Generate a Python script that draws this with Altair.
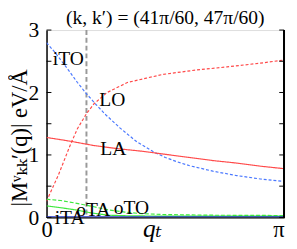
import altair as alt
import pandas as pd
import numpy as np

PI = float(np.pi)

# q given as fraction of pi
ito_q = [0, 0.04, 0.09, 0.13, 0.168, 0.21, 0.25, 0.31, 0.38, 0.45, 0.5, 0.55, 0.6, 0.7, 0.8, 0.9, 1.0]
ito_v = [2.80, 2.62, 2.37, 2.16, 1.98, 1.80, 1.64, 1.43, 1.21, 1.05, 0.96, 0.89, 0.83, 0.74, 0.67, 0.615, 0.575]

lo_q = [0, 0.05, 0.10, 0.13, 0.168, 0.2, 0.255, 0.34, 0.42, 0.49, 0.63, 0.76, 0.9, 1.0]
lo_v = [0.26, 0.68, 1.16, 1.42, 1.66, 1.82, 2.00, 2.16, 2.23, 2.29, 2.36, 2.41, 2.47, 2.52]

la_q = [0, 0.1, 0.2, 0.3, 0.4, 0.5, 0.6, 0.7, 0.8, 0.9, 1.0]
la_v = [1.28, 1.22, 1.15, 1.10, 1.06, 1.01, 0.96, 0.91, 0.87, 0.82, 0.78]

oto_q = [0, 0.06, 0.12, 0.2, 0.26, 0.33, 0.4, 0.5, 0.7, 1.0]
oto_v = [0.29, 0.27, 0.23, 0.17, 0.12, 0.085, 0.06, 0.045, 0.035, 0.03]

ota_q = [0, 0.06, 0.123, 0.19, 0.26, 0.35, 0.5, 1.0]
ota_v = [0.185, 0.155, 0.12, 0.07, 0.035, 0.025, 0.02, 0.02]

ita_q = [0, 0.5, 1.0]
ita_v = [0.01, 0.01, 0.01]

series_names = ["iTO", "LO", "LA", "oTO", "oTA", "iTA"]
series_colors = ["#4a78ff", "#ff4a4a", "#ff4a4a", "#3ee83e", "#3ee83e", "#2233cc"]
series_dash = [[3, 2], [3, 2], [1, 0], [4, 2], [1, 0], [1, 0]]

label_text = ["iTO", "LO", "LA", "iTA", "oTA", "oTO"]
label_q = [0.092, 0.277, 0.281, 0.097, 0.197, 0.357]
label_v = [2.54, 1.88, 1.10, -0.01, 0.12, 0.15]

title_text = ["(k, k′) = (41π/60, 47π/60)"]
marker_q = [0.168]
tick_vals = [0, 0.5, 1, 1.5, 2, 2.5, 3]

W, H = 243.5, 192
SERIF = "Liberation Serif, Times New Roman, Times, DejaVu Serif, serif"

rows = []
for name, qs, vs in [("iTO", ito_q, ito_v), ("LO", lo_q, lo_v), ("LA", la_q, la_v),
                     ("oTO", oto_q, oto_v), ("oTA", ota_q, ota_v), ("iTA", ita_q, ita_v)]:
    for q, v in zip(qs, vs):
        rows.append({"q": q * PI, "v": v, "s": name})
df = pd.DataFrame(rows)

lab_df = pd.DataFrame({"q": [q * PI for q in label_q], "v": label_v, "t": label_text})
mark_df = pd.DataFrame({"q": [q * PI for q in marker_q]})
tick_df = pd.DataFrame({"y": tick_vals})
title_df = pd.DataFrame({"t": title_text})

xscale = alt.Scale(domain=[0, PI], nice=False, zero=False)
yscale = alt.Scale(domain=[0, 3], nice=False)

xaxis = alt.Axis(values=[0, PI], labelExpr="datum.value < 1 ? '0' : 'π'",
                 tickSize=0, domainColor="black", domainWidth=1.5,
                 labelFont=SERIF, labelFontSize=23, labelColor="black", labelPadding=2,
                 labelAlign={"condition": {"test": "datum.value > 1", "value": "right"}, "value": "center"},
                 grid=False, title="qₜ", titleFont=SERIF, titleFontSize=26,
                 titleFontStyle="italic", titleFontWeight="normal", titleColor="black",
                 titleX=108, titleY=-1, titleBaseline="top", titleAlign="center")
yaxis = alt.Axis(values=tick_vals,
                 labelExpr="datum.value % 1 == 0 ? format(datum.value, 'd') : ''",
                 tickSize=0, domainColor="black", domainWidth=1.5,
                 labelFont=SERIF, labelFontSize=22, labelColor="black", labelPadding=8,
                 grid=False, title="|Mᵛₖₖ′(q)|  eV/Å", titleFont=SERIF, titleFontSize=23,
                 titleFontWeight="normal", titleColor="black",
                 titleX=-28, titleY=110, titleBaseline="middle", titleAlign="center", titleAngle=-90)

lines = alt.Chart(df).mark_line(strokeWidth=1.2, clip=True).encode(
    x=alt.X("q:Q", scale=xscale, axis=xaxis),
    y=alt.Y("v:Q", scale=yscale, axis=yaxis),
    color=alt.Color("s:N", scale=alt.Scale(domain=series_names, range=series_colors), legend=None),
    strokeDash=alt.StrokeDash("s:N", scale=alt.Scale(domain=series_names, range=series_dash), legend=None),
    detail="s:N",
)

vline = alt.Chart(mark_df).mark_rule(color="#999999", strokeWidth=2, strokeDash=[5, 3]).encode(
    x=alt.X("q:Q", scale=xscale)
)

ticks_l = alt.Chart(tick_df).mark_rule(color="black", strokeWidth=1).encode(
    y=alt.Y("y:Q", scale=yscale), x=alt.value(0), x2=alt.value(5)
)
ticks_r = alt.Chart(tick_df).mark_rule(color="black", strokeWidth=1).encode(
    y=alt.Y("y:Q", scale=yscale), x=alt.value(W - 5), x2=alt.value(W)
)
right_border = alt.Chart(tick_df).mark_rule(color="black", strokeWidth=1.5).encode(
    x=alt.value(W), y=alt.value(0), y2=alt.value(H)
)

labels = alt.Chart(lab_df).mark_text(font=SERIF, fontSize=20, color="black",
                                     align="center", baseline="middle").encode(
    x=alt.X("q:Q", scale=xscale), y=alt.Y("v:Q", scale=yscale), text="t:N"
)

title = alt.Chart(title_df).mark_text(font=SERIF, fontSize=20, color="black",
                                      align="center", baseline="alphabetic").encode(
    x=alt.value(W / 2), y=alt.value(-6), text="t:N"
)

chart = alt.layer(vline, lines, labels, ticks_l, ticks_r, right_border, title).properties(
    width=W, height=H,
    autosize=alt.AutoSizeParams(type="none"),
    padding={"left": 39.5, "top": 19.7, "right": 5, "bottom": 22},
).configure_view(stroke="#888888", strokeWidth=2).configure(background="white")

chart.save("out.html", embed_options={"renderer": "svg", "actions": False})
